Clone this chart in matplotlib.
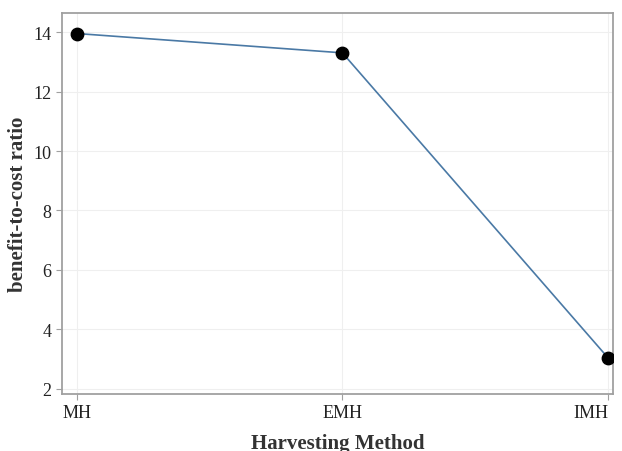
import matplotlib
matplotlib.use('Agg')
import matplotlib.pyplot as plt

methods = ["MH", "EMH", "IMH"]
ratio = [13.95, 13.3, 3.05]
yticks = [2, 4, 6, 8, 10, 12, 14]

plt.rcParams['font.family'] = ['Liberation Serif', 'DejaVu Serif']

fig = plt.figure(figsize=(6.22, 4.52), dpi=100)
ax = fig.add_axes([62 / 622, 1 - 395 / 452, 551 / 622, 381 / 452])

x = list(range(len(methods)))
ax.plot(x, ratio, color='#4a79a5', linewidth=1.2, zorder=2)
ax.scatter(x, ratio, s=80, color='black', zorder=3)

ax.set_xlim(-0.056, 2.019)
ax.set_ylim(1.83, 14.64)
ax.set_xticks(x)
ax.set_xticklabels(methods)
ax.set_yticks(yticks)

ax.grid(True, color='#efefef', linewidth=0.8, zorder=0)
ax.set_axisbelow(True)
for s in ax.spines.values():
    s.set_color('#a0a0a0')
    s.set_linewidth(1.3)
ax.tick_params(colors='#a0a0a0', labelcolor='#222222', labelsize=13, length=4)
# keep the last tick label inside the figure
ax.get_xticklabels()[-1].set_horizontalalignment('right')
ax.get_xticklabels()[-1].set_x(2.019)

ax.set_xlabel("Harvesting Method", fontsize=15, fontweight='bold', color='#333333', labelpad=8)
ax.set_ylabel("benefit-to-cost ratio", fontsize=15, fontweight='bold', color='#333333', labelpad=4)

plt.savefig('out.png', dpi=100)
